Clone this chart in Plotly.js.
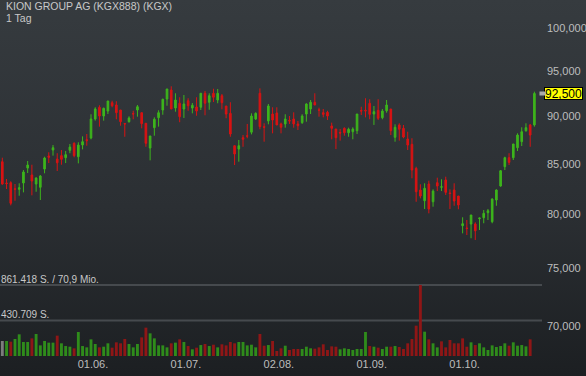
<!DOCTYPE html>
<html><head><meta charset="utf-8">
<script src="https://cdn.plot.ly/plotly-3.0.1.min.js"></script>
<style>
html,body{margin:0;padding:0;}
body{width:586px;height:376px;overflow:hidden;background:linear-gradient(to bottom,#363b3f 0%,#2b2f33 55%,#1c1f22 100%);}
#chart{width:586px;height:376px;}
</style></head><body><div id="chart"></div>
<script>
const titleText = 'KION GROUP AG (KGX888) (KGX)';
const periodText = '1 Tag';
const startDate = '2021-05-03';
const tickDates = ['2021-06-01','2021-07-01','2021-08-02','2021-09-01','2021-10-01'];
const tickLabels = ['01.06.','01.07.','02.08.','01.09.','01.10.'];
const priceTicks = [70,75,80,85,90,95,100];
const priceTickLabels = ['70,000','75,000','80,000','85,000','90,000','95,000','100,000'];
const volRefs = [861418, 430709];
const volRefLabels = ['861.418 S. / 70,9 Mio.', '430.709 S.'];

const open = [85.23,83.08,83.11,82.51,82.45,83.08,84.58,83.88,82.98,82.65,84.48,85.82,86.43,85.50,85.85,85.64,86.40,87.13,85.74,86.95,87.51,87.69,89.71,90.98,90.03,90.57,91.48,91.23,90.68,89.23,89.42,90.30,90.68,90.39,89.25,86.64,88.78,89.85,90.68,91.89,92.89,90.90,91.42,90.79,91.70,90.90,91.01,90.98,92.52,91.53,92.52,91.78,92.25,91.12,90.32,86.88,86.53,87.72,87.92,88.30,89.71,92.52,88.89,89.50,90.25,90.36,89.18,89.18,89.55,89.71,89.18,89.32,90.25,90.79,91.53,90.70,90.39,90.43,88.96,88.64,88.27,88.71,88.24,88.35,88.46,90.63,90.65,91.42,90.25,90.65,89.85,90.60,90.79,87.76,89.07,88.71,87.58,87.02,84.55,82.38,81.33,82.98,81.23,83.11,82.66,83.38,82.09,82.38,81.79,78.93,78.71,79.09,79.09,79.60,79.69,80.17,79.31,81.40,82.78,84.72,85.64,85.64,86.67,87.30,88.46,89.07,89.07];
const high = [85.64,83.48,83.25,82.98,83.05,84.38,85.30,84.92,83.65,83.88,85.74,86.20,86.95,86.10,86.43,86.33,87.06,87.24,87.24,87.86,88.11,90.22,90.98,91.20,90.94,91.67,91.70,91.64,90.68,89.28,90.00,90.60,91.23,90.39,89.25,87.90,89.89,90.65,91.92,93.00,93.30,92.52,92.08,92.33,91.97,91.45,92.08,92.52,92.78,92.52,93.03,93.00,92.44,91.12,91.53,86.88,87.48,88.00,89.18,90.32,90.43,93.07,89.25,91.34,90.98,90.98,89.32,90.22,90.03,90.43,89.50,90.22,91.42,91.78,92.52,90.94,90.79,90.60,89.32,88.64,88.64,88.82,88.78,88.82,90.25,91.04,91.97,91.86,91.12,91.86,90.79,91.78,90.79,89.14,89.25,89.07,88.35,87.66,84.72,82.95,83.05,83.31,82.45,83.61,83.45,83.71,82.45,83.05,81.79,79.73,79.47,79.95,79.25,79.69,80.43,80.53,81.56,82.45,84.38,85.74,86.10,87.06,88.18,88.82,89.25,89.18,92.70];
const low = [82.91,82.48,80.88,81.33,81.82,82.15,84.08,81.86,82.21,81.40,84.05,85.09,85.85,84.28,84.92,85.09,86.10,85.68,85.06,86.50,86.88,87.55,89.53,88.89,89.53,90.25,90.98,89.68,88.99,87.82,89.32,89.68,89.96,88.71,86.77,85.37,87.93,88.89,90.17,91.15,90.79,90.50,89.36,89.82,90.60,90.32,90.06,90.68,90.11,90.71,91.56,91.42,90.76,89.79,87.82,84.89,85.23,86.77,87.66,88.07,89.60,88.61,87.30,89.14,88.18,89.07,88.18,88.78,89.18,88.78,88.53,89.18,89.42,90.25,91.23,89.96,89.89,89.60,87.55,86.53,87.41,87.93,87.82,87.55,88.11,90.14,89.89,89.68,89.07,89.60,89.68,90.39,88.00,87.30,87.41,87.66,86.43,83.55,81.23,81.56,80.53,80.11,80.75,82.28,82.28,81.89,80.53,80.84,80.50,78.21,78.05,77.75,77.59,78.52,79.16,79.47,79.16,80.84,82.71,84.38,84.89,85.40,86.33,86.85,88.35,86.77,88.89];
const close = [82.98,83.02,81.08,82.45,82.61,84.18,84.89,83.28,83.58,83.78,85.61,85.68,86.67,85.12,85.47,85.95,86.74,85.85,86.95,87.30,87.41,89.71,90.79,90.03,90.87,91.67,91.15,90.39,89.42,89.18,89.82,90.25,91.04,89.21,87.13,87.90,89.68,90.39,91.86,93.00,90.79,91.78,89.96,91.34,91.15,91.20,90.57,92.52,91.42,92.25,92.08,92.52,91.48,90.25,88.11,86.02,86.88,87.55,87.88,90.03,90.32,88.89,88.82,91.12,89.60,89.07,88.82,89.71,89.50,89.18,88.99,90.03,91.34,91.53,91.23,90.66,90.21,90.03,88.71,87.72,88.21,88.24,88.61,88.64,90.25,90.57,90.59,90.21,90.50,89.79,90.57,91.23,88.46,88.82,88.61,87.79,86.95,84.38,82.21,81.79,82.55,80.53,82.28,82.78,82.70,82.15,82.04,81.30,80.91,79.12,78.66,79.95,78.45,79.66,80.11,80.36,81.50,82.38,84.31,85.64,85.16,87.06,88.00,88.35,88.78,88.00,92.50];
const volume = [182000,182000,174000,206000,263000,170000,170000,214000,267000,129000,182000,162000,162000,247000,154000,121000,113000,93000,291000,121000,105000,202000,146000,105000,113000,154000,101000,166000,154000,206000,146000,105000,146000,226000,344000,275000,214000,129000,129000,105000,154000,162000,202000,170000,121000,81000,101000,133000,146000,121000,137000,105000,142000,129000,170000,154000,170000,170000,129000,137000,105000,267000,125000,133000,182000,61000,93000,125000,73000,85000,85000,85000,113000,93000,89000,105000,142000,73000,117000,113000,81000,93000,85000,73000,85000,85000,291000,121000,113000,101000,85000,113000,113000,121000,109000,85000,154000,206000,368000,861418,295000,202000,154000,105000,178000,105000,194000,154000,154000,214000,113000,166000,133000,154000,105000,73000,129000,109000,121000,154000,125000,166000,125000,133000,117000,202000,null];

function tradingDays(startISO, n){
  const out=[]; const d=new Date(startISO+'T00:00:00Z');
  while(out.length<n){ const wd=d.getUTCDay(); if(wd!==0&&wd!==6) out.push(d.toISOString().slice(0,10)); d.setUTCDate(d.getUTCDate()+1); }
  return out;
}
const dates = tradingDays(startDate, close.length);

const UP='#3db51c', DOWN='#d81313';
const VUP='#2f8c1b', VDOWN='#8f1616', VFLAT='#7d7d7d';
const volColors = close.map((c,i)=> i===0 ? VFLAT : (c>=close[i-1] ? VUP : VDOWN));

const PLOT_H = 356;
const py = px => 1 - px/PLOT_H;
const last = close[close.length-1];
const lastLabel = last.toFixed(3).replace('.',',');

const traces = [
  {type:'bar', x:dates, y:volume, yaxis:'y2', marker:{color:volColors, line:{width:0}}, width:0.68, hoverinfo:'skip'},
  {type:'candlestick', x:dates, open:open, high:high, low:low, close:close,
   increasing:{line:{color:UP,width:1}, fillcolor:UP},
   decreasing:{line:{color:DOWN,width:1}, fillcolor:DOWN},
   whiskerwidth:0, hoverinfo:'skip'}
];

const layout = {
  width:586, height:376,
  margin:{l:0,r:44,t:0,b:20,pad:0},
  paper_bgcolor:'rgba(0,0,0,0)', plot_bgcolor:'rgba(0,0,0,0)',
  showlegend:false, boxgap:0.45,
  font:{family:'"Liberation Sans", Arial, sans-serif', size:11, color:'#c4c4c4'},
  xaxis:{type:'category', range:[-0.55,127.8], tickvals:tickDates, ticktext:tickLabels,
    showgrid:false, zeroline:false, showline:false, ticks:'', rangeslider:{visible:false},
    tickfont:{size:11,color:'#bdbdbd'}, ticklabelshift:2},
  yaxis:{type:'log', side:'right', range:[1.82934,2.01485], tickvals:priceTicks, ticktext:priceTickLabels,
    showgrid:false, zeroline:false, showline:false, ticks:'', ticklabelstandoff:4, tickfont:{size:11,color:'#bdbdbd'}},
  yaxis2:{overlaying:'y', range:[0,4319000], visible:false},
  shapes:[
    {type:'line', xref:'paper', x0:0, x1:1, yref:'y2', y0:volRefs[0], y1:volRefs[0], line:{color:'#464a4e', width:2}, layer:'below'},
    {type:'line', xref:'paper', x0:0, x1:1, yref:'y2', y0:volRefs[1], y1:volRefs[1], line:{color:'#464a4e', width:2}, layer:'below'}
  ],
  annotations:[
    {xref:'paper', yref:'paper', x:0, y:py(6), xanchor:'left', yanchor:'middle', xshift:4, text:titleText, showarrow:false, font:{size:10.5,color:'#c8c8c8'}},
    {xref:'paper', yref:'paper', x:0, y:py(17.8), xanchor:'left', yanchor:'middle', xshift:4, text:periodText, showarrow:false, font:{size:10.5,color:'#c8c8c8'}},
    {xref:'paper', yref:'paper', x:0, y:py(279), xanchor:'left', yanchor:'middle', xshift:-1, text:volRefLabels[0], showarrow:false, font:{size:10,color:'#c8c8c8'}},
    {xref:'paper', yref:'paper', x:0, y:py(314), xanchor:'left', yanchor:'middle', xshift:-1, text:volRefLabels[1], showarrow:false, font:{size:10,color:'#c8c8c8'}},
    {xref:'paper', yref:'y', x:1, y:Math.log10(last), xanchor:'center', yanchor:'middle', xshift:21.5, text:lastLabel, showarrow:false,
     font:{size:12,color:'#000000'}, bgcolor:'#ffff00', bordercolor:'#000000', borderwidth:1, borderpad:0, width:37, height:11},
    {xref:'paper', yref:'y', x:1, y:Math.log10(last), xanchor:'center', yanchor:'middle', xshift:0.5, text:'', showarrow:false,
     width:3, height:1, bgcolor:'#aaaaaa'}
  ]
};

Plotly.newPlot('chart', traces, layout, {staticPlot:true, displayModeBar:false});
</script></body></html>
